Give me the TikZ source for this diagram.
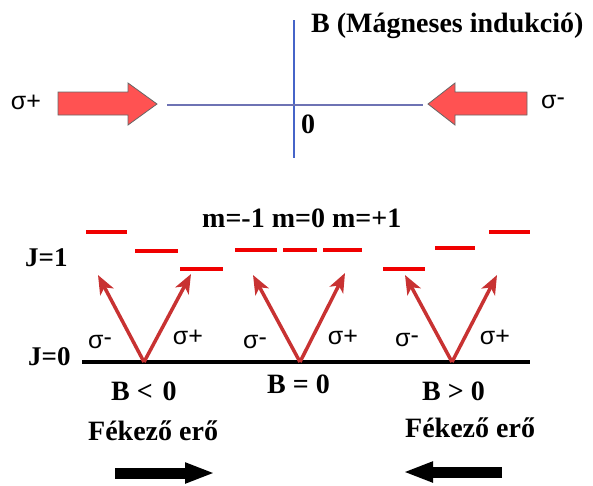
\documentclass[tikz,border=0pt]{standalone}
\usepackage{fontspec}
\setmainfont{Liberation Serif}
\newfontfamily\sigfont{Liberation Sans}
\usetikzlibrary{arrows.meta}

\definecolor{levred}{RGB}{240,0,0}
\definecolor{arrred}{RGB}{200,50,50}
\definecolor{blockred}{RGB}{255,82,82}
\definecolor{axblue}{RGB}{110,115,180}
\definecolor{vblue}{RGB}{70,100,200}

\tikzset{
  lbl/.style={font=\fontsize{28}{28}\selectfont\bfseries, inner sep=0pt, anchor=base west},
  jlbl/.style={font=\fontsize{27}{27}\selectfont\bfseries, inner sep=0pt, anchor=base west},
  ttl/.style={font=\fontsize{28}{28}\selectfont\bfseries, inner sep=0pt, anchor=base west},
  sig/.style={font=\fontsize{25}{25}\selectfont\sigfont, inner sep=0pt},
  level/.style={draw=levred, line width=4pt},
  trans/.style={draw=arrred, line width=3.5pt, -{Stealth[length=19pt,width=15pt,inset=5pt]}},
  block/.style={fill=blockred, draw=black!60, line width=0.8pt, line join=miter},
  force/.style={draw=black, line width=11pt, -{Triangle[length=30pt,width=19pt]}},
}
\newcommand{\sgm}{σ\raisebox{0.12em}{-}}

\begin{document}
\begin{tikzpicture}[x=1pt,y=-1pt]
\useasboundingbox (0,0) rectangle (593,485);

% axes
\coordinate (vtop) at (294,20);
\coordinate (vbot) at (294,158);
\coordinate (hl) at (167,105);
\coordinate (hr) at (423,105);
\draw[vblue, line width=1.3pt] (vtop) -- (vbot);
\draw[axblue, line width=2.6pt] (hl) -- (hr);
\node[ttl] (title) at (311,32) {B (Mágneses indukció)};
\node[lbl] (zero) at (301,133) {0};

% block arrows
\draw[block] (58,92) -- (128,92) -- (128,83) -- (157,104) -- (128,125) -- (128,115) -- (58,115) -- cycle;
\draw[block] (527,92) -- (455,92) -- (455,83) -- (428,104) -- (455,125) -- (455,115) -- (527,115) -- cycle;
\node[sig] (sigpl) at (26,102) {σ+};
\node[sig] (sigmr) at (553,102) {\sgm};

% m labels
\node[lbl] (mrow) at (202,227) {m=-1 m=0 m=+1};
\node[jlbl] (j1) at (25,266) {J=1};
\node[jlbl] (j0) at (28,365) {J=0};

% ground level
\coordinate (g0) at (82,362);
\coordinate (g1) at (530,362);
\draw[black, line width=3.5pt] (g0) -- (g1);

% levels left (B<0)
\draw[level] (86,232) -- (127,232);
\draw[level] (135,251) -- (178,251);
\draw[level] (180,269) -- (223,269);
% levels middle (B=0)
\draw[level] (235,250) -- (277,250);
\draw[level] (283,250) -- (317,250);
\draw[level] (323,250) -- (362,250);
% levels right (B>0)
\draw[level] (383,269) -- (425,269);
\draw[level] (435,248) -- (475,248);
\draw[level] (489,232) -- (530,232);

% transitions
\coordinate (va) at (144,362);
\coordinate (vb) at (300,362);
\coordinate (vc) at (452,362);
\coordinate (ta1) at (98,275);
\coordinate (ta2) at (191,274);
\coordinate (tb1) at (253,275);
\coordinate (tb2) at (345,273);
\coordinate (tc1) at (405,275);
\coordinate (tc2) at (497,275);
\draw[trans] (va) -- (ta1);
\draw[trans] (va) -- (ta2);
\draw[trans] (vb) -- (tb1);
\draw[trans] (vb) -- (tb2);
\draw[trans] (vc) -- (tc1);
\draw[trans] (vc) -- (tc2);

\node[sig] (sa1) at (100,342) {\sgm};
\node[sig] (sa2) at (188,337) {σ+};
\node[sig] (sb1) at (255,342) {\sgm};
\node[sig] (sb2) at (343,337) {σ+};
\node[sig] (sc1) at (407,340) {\sgm};
\node[sig] (sc2) at (495,337) {σ+};

% field labels
\node[lbl] (blt) at (111,400) {B <\hspace{0.35em}0};
\node[lbl] (beq) at (267,393) {B = 0};
\node[lbl] (bgt) at (422,400) {B > 0};
\node[lbl] (fl) at (88,440) {Fékező erő};
\node[lbl] (fr) at (405,437) {Fékező erő};

% force arrows
\coordinate (fa0) at (115,473);
\coordinate (fa1) at (215,473);
\coordinate (fb0) at (502,472);
\coordinate (fb1) at (403,472);
\draw[force] (fa0) -- (fa1);
\draw[force] (fb0) -- (fb1);
\end{tikzpicture}
\end{document}
